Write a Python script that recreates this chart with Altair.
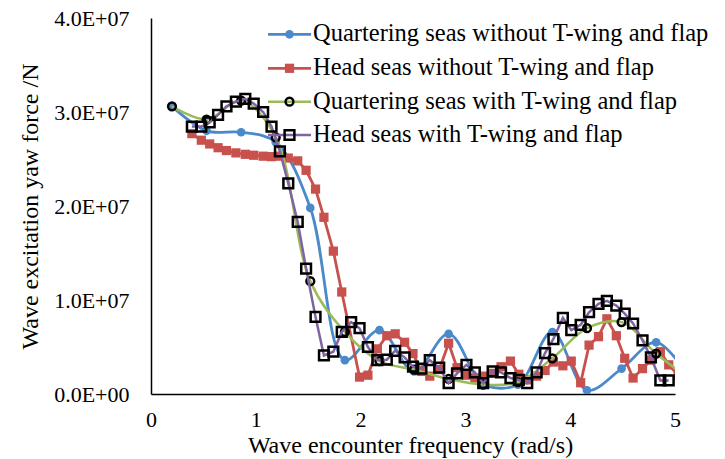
import altair as alt
import pandas as pd

UNIT = 1e7  # force values below are given in units of 10^7 N

# Quartering seas, encounter frequency (rad/s)
quarter_freq = [0.20, 0.53, 0.86, 1.19, 1.52, 1.85, 2.18, 2.51,
                2.84, 3.17, 3.50, 3.83, 4.16, 4.49, 4.82, 5.15]
quarter_without = [3.06, 2.80, 2.785, 2.68, 1.98, 0.36, 0.68, 0.24,
                   0.64, 0.11, 0.10, 0.66, 0.04, 0.27, 0.55, 0.15]
quarter_with = [3.06, 2.92, 3.12, 2.73, 1.20, 0.66, 0.35, 0.26,
                0.16, 0.10, 0.125, 0.38, 0.70, 0.765, 0.43, 0.15]

# Head seas without T-wing and flap
head_freq_without = [0.39, 0.48, 0.56, 0.64, 0.72, 0.81, 0.90, 0.98, 1.07, 1.15,
                     1.23, 1.31, 1.40, 1.48, 1.57, 1.65, 1.74, 1.82, 1.99, 2.07,
                     2.16, 2.25, 2.33, 2.42, 2.50, 2.58, 2.66, 2.75, 2.84, 2.92,
                     3.01, 3.09, 3.17, 3.26, 3.34, 3.43, 3.51, 3.59, 3.68, 3.76,
                     3.84, 3.93, 4.01, 4.10, 4.18, 4.27, 4.35, 4.44, 4.52, 4.60,
                     4.69, 4.77, 4.86, 4.94, 5.03]
head_without = [2.77, 2.70, 2.66, 2.62, 2.59, 2.565, 2.55, 2.54, 2.53, 2.525,
                2.53, 2.51, 2.48, 2.38, 2.18, 1.88, 1.52, 1.085, 0.18, 0.20,
                0.48, 0.62, 0.64, 0.55, 0.43, 0.24, 0.19, 0.26, 0.54, 0.28,
                0.20, 0.17, 0.19, 0.22, 0.29, 0.35, 0.21, 0.15, 0.19, 0.25,
                0.34, 0.30, 0.35, 0.12, 0.52, 0.61, 0.80, 0.62, 0.38, 0.17,
                0.27, 0.36, 0.45, 0.31, 0.20]

# Head seas with T-wing and flap
head_freq_with = [0.39, 0.48, 0.56, 0.64, 0.72, 0.81, 0.90, 0.98, 1.07, 1.15,
                  1.23, 1.31, 1.40, 1.48, 1.57, 1.65, 1.74, 1.82, 1.91, 1.99,
                  2.07, 2.16, 2.25, 2.33, 2.42, 2.50, 2.58, 2.66, 2.75, 2.84,
                  2.92, 3.01, 3.09, 3.17, 3.26, 3.34, 3.43, 3.51, 3.59, 3.68,
                  3.76, 3.84, 3.93, 4.01, 4.10, 4.18, 4.27, 4.35, 4.44, 4.52,
                  4.60, 4.69, 4.77, 4.86, 4.94]
head_with = [2.845, 2.845, 2.89, 2.97, 3.06, 3.11, 3.14, 3.09, 3.00, 2.845,
             2.58, 2.24, 1.83, 1.335, 0.82, 0.41, 0.45, 0.66, 0.765, 0.70,
             0.50, 0.36, 0.365, 0.46, 0.39, 0.29, 0.27, 0.36, 0.28, 0.115,
             0.22, 0.31, 0.23, 0.115, 0.24, 0.23, 0.17, 0.15, 0.115, 0.23,
             0.435, 0.585, 0.81, 0.68, 0.735, 0.87, 0.96, 0.99, 0.94, 0.855,
             0.75, 0.57, 0.39, 0.144, 0.144]

x_ticks = [0, 1, 2, 3, 4, 5]
y_ticks = [0, 1e7, 2e7, 3e7, 4e7]

FONT = "Liberation Serif"
PLOT_W, PLOT_H = 524, 376

series = [
    dict(label="Quartering seas without T-wing and flap", freq=quarter_freq, force=quarter_without,
         line="#4A8ACB", interp="catmull-rom", shape="circle", size=75, filled=True,
         mcolor="#4A8ACB", mstroke=0, lw=2.8),
    dict(label="Head seas without T-wing and flap", freq=head_freq_without, force=head_without,
         line="#C8504D", interp="linear", shape="square", size=85, filled=True,
         mcolor="#C8504D", mstroke=0, lw=2.8),
    dict(label="Quartering seas with T-wing and flap", freq=quarter_freq, force=quarter_with,
         line="#9BBB59", interp="catmull-rom", shape="circle", size=60, filled=False,
         mcolor="black", mstroke=2.5, lw=2.5),
    dict(label="Head seas with T-wing and flap", freq=head_freq_with, force=head_with,
         line="#8064A2", interp="linear", shape="square", size=95, filled=False,
         mcolor="black", mstroke=2.5, lw=2.5),
]

x_enc = alt.X(
    "freq:Q",
    scale=alt.Scale(domain=[0, 5], nice=False, zero=False),
    axis=alt.Axis(
        values=x_ticks, format="d", ticks=False, tickSize=0, grid=False,
        labelFlush=False, domainColor="black", domainWidth=1.5,
        labelFont=FONT, labelFontSize=22, labelColor="black", labelPadding=15,
        title="Wave encounter frequency (rad/s)", titleFont=FONT, titleFontSize=24,
        titleFontWeight="normal", titleColor="black",
        titleX=259, titleY=51, titleBaseline="middle", titleAlign="center",
    ),
)
y_enc = alt.Y(
    "force:Q",
    scale=alt.Scale(domain=[0, 4e7], nice=False),
    axis=alt.Axis(
        values=y_ticks, ticks=False, tickSize=0, grid=False,
        labelFlush=False, domainColor="black", domainWidth=1.5,
        labelExpr="datum.value == 0 ? '0.0E+00' : format(datum.value / 1e7, '.1f') + 'E+07'",
        labelFont=FONT, labelFontSize=22, labelColor="black", labelPadding=22,
        title="Wave excitation yaw force /N", titleFont=FONT, titleFontSize=24,
        titleFontWeight="normal", titleColor="black",
        titleX=-121, titleY=PLOT_H / 2, titleAngle=270,
        titleBaseline="middle", titleAlign="center",
    ),
)

# legend placement inside the plot, top right
LEG_X0, LEG_X1, LEG_TEXT_X = 117, 160, 162
LEG_ROWS = [16.3, 50.3, 83.7, 117.0]

layers = []
legend_layers = []
for s, ly in zip(series, LEG_ROWS):
    df = pd.DataFrame({"freq": s["freq"], "force": [v * UNIT for v in s["force"]]})
    base = alt.Chart(df).encode(x=x_enc, y=y_enc)
    layers.append(base.mark_line(color=s["line"], strokeWidth=s["lw"],
                                 interpolate=s["interp"], clip=True))
    point_kw = dict(shape=s["shape"], size=s["size"], filled=s["filled"], opacity=1)
    if s["filled"]:
        point_kw.update(color=s["mcolor"])
    else:
        point_kw.update(stroke=s["mcolor"], strokeWidth=s["mstroke"])
    layers.append(base.mark_point(clip=True, **point_kw))

    one = pd.DataFrame({"label": [s["label"]]})
    lbase = alt.Chart(one)
    legend_layers.append(lbase.mark_rule(color=s["line"], strokeWidth=s["lw"]).encode(
        x=alt.value(LEG_X0), x2=alt.value(LEG_X1), y=alt.value(ly)))
    legend_layers.append(lbase.mark_point(**point_kw).encode(
        x=alt.value((LEG_X0 + LEG_X1) / 2), y=alt.value(ly)))
    legend_layers.append(lbase.mark_text(align="left", baseline="middle", font=FONT,
                                         fontSize=24.5, color="black").encode(
        x=alt.value(LEG_TEXT_X), y=alt.value(ly), text="label:N"))

chart = alt.layer(*layers, *legend_layers).properties(
    width=PLOT_W, height=PLOT_H,
    autosize=alt.AutoSizeParams(type="none"),
    padding={"left": 151, "top": 18, "right": 50, "bottom": 65},
    background="white",
).configure_view(stroke=None)

chart.save("out.html", embed_options={"renderer": "svg", "actions": False})
